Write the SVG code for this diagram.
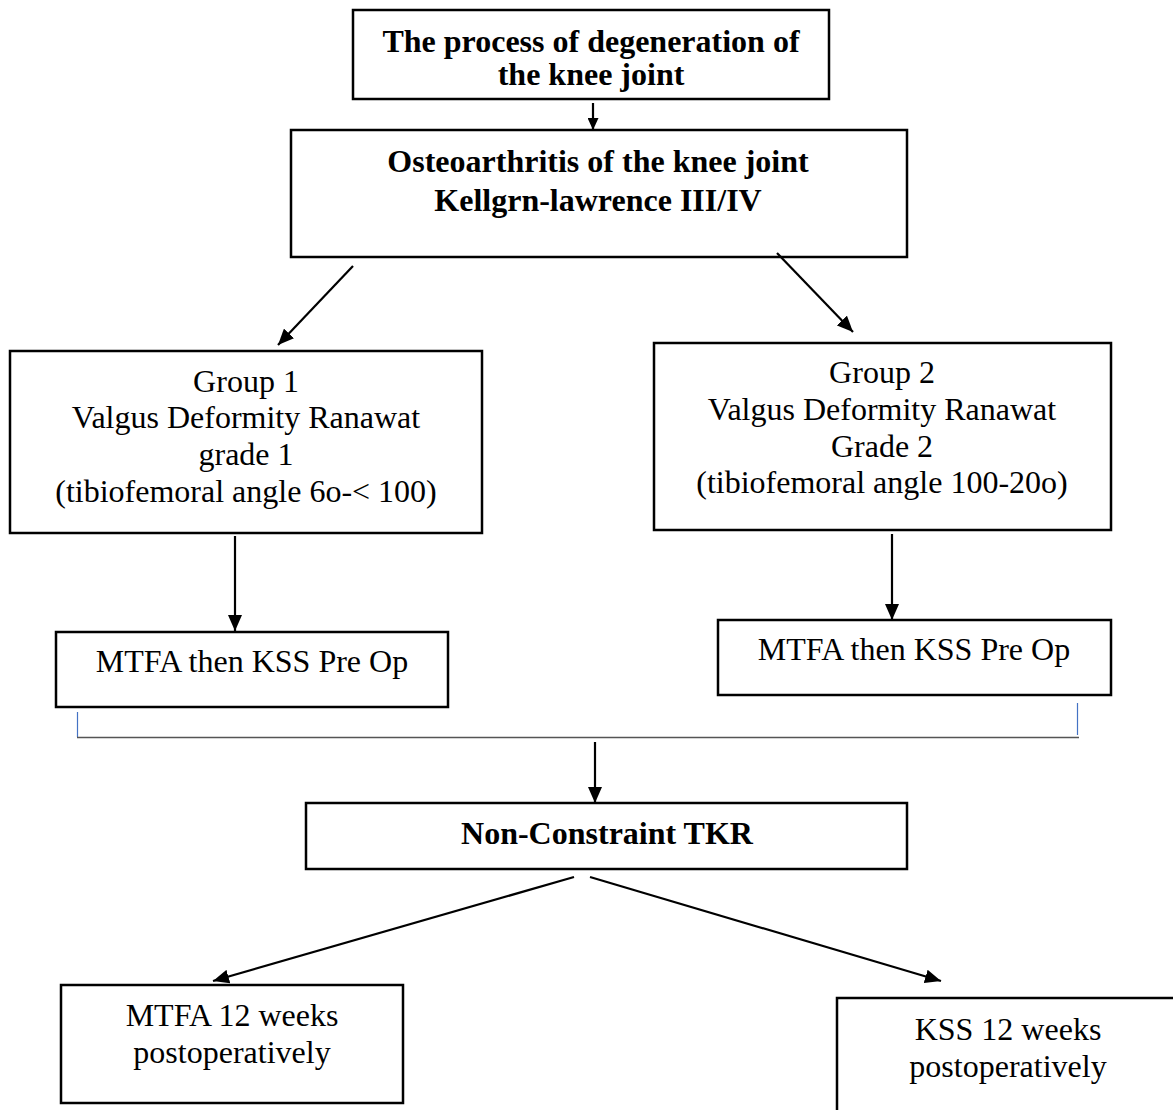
<svg xmlns="http://www.w3.org/2000/svg" width="1173" height="1110" viewBox="0 0 1173 1110">
<style>
.box{fill:#fff;stroke:#000;stroke-width:2.5}
.t{font-family:"Liberation Serif","Times New Roman",serif;font-size:32px;fill:#000;text-anchor:middle}
.b{font-weight:bold}
.c{stroke:#000;stroke-width:2.2;fill:none;marker-end:url(#ah)}
.cs{stroke:#000;stroke-width:2.2;fill:none;marker-end:url(#ahs)}
</style>
<defs>
<marker id="ah" viewBox="0 0 16 14" refX="16" refY="7" markerWidth="16" markerHeight="14" markerUnits="userSpaceOnUse" orient="auto">
<path d="M0,0 L16,7 L0,14 z" fill="#000"/>
</marker>
<marker id="ahs" viewBox="0 0 12 11" refX="12" refY="5.5" markerWidth="12" markerHeight="11" markerUnits="userSpaceOnUse" orient="auto">
<path d="M0,0 L12,5.5 L0,11 z" fill="#000"/>
</marker>
</defs>
<rect width="1173" height="1110" fill="#fff"/>
<g id="n1"><rect class="box" x="353" y="10" width="476" height="89"/>
<text class="t b" x="591" y="52">The process of degeneration of</text>
<text class="t b" x="591" y="85">the knee joint</text></g>
<g id="n2"><rect class="box" x="291" y="130" width="616" height="127"/>
<text class="t b" x="598" y="172">Osteoarthritis of the knee joint</text>
<text class="t b" x="598" y="211">Kellgrn-lawrence III/IV</text></g>
<g id="n3"><rect class="box" x="10" y="351" width="472" height="182"/>
<text class="t" x="246" y="392">Group 1</text>
<text class="t" x="246" y="428">Valgus Deformity Ranawat</text>
<text class="t" x="246" y="465">grade 1</text>
<text class="t" x="246" y="502">(tibiofemoral angle 6o-&lt; 100)</text></g>
<g id="n4"><rect class="box" x="654" y="343" width="457" height="187"/>
<text class="t" x="882" y="383">Group 2</text>
<text class="t" x="882" y="420">Valgus Deformity Ranawat</text>
<text class="t" x="882" y="457">Grade 2</text>
<text class="t" x="882" y="493">(tibiofemoral angle 100-20o)</text></g>
<g id="n5"><rect class="box" x="56" y="632" width="392" height="75"/>
<text class="t" x="252" y="672">MTFA then KSS Pre Op</text></g>
<g id="n6"><rect class="box" x="718" y="620" width="393" height="75"/>
<text class="t" x="914" y="660">MTFA then KSS Pre Op</text></g>
<g id="n7"><rect class="box" x="306" y="803" width="601" height="66"/>
<text class="t b" x="607" y="844">Non-Constraint TKR</text></g>
<g id="n8"><rect class="box" x="61" y="985" width="342" height="118"/>
<text class="t" x="232" y="1026">MTFA 12 weeks</text>
<text class="t" x="232" y="1063">postoperatively</text></g>
<g id="n9"><rect class="box" x="837" y="998" width="360" height="130"/>
<text class="t" x="1008" y="1040">KSS 12 weeks</text>
<text class="t" x="1008" y="1077">postoperatively</text></g>
<g id="connectors">
<line class="cs" x1="593" y1="103" x2="593" y2="130"/>
<line class="c" x1="353" y1="266" x2="278" y2="345"/>
<line class="c" x1="777" y1="253" x2="853" y2="332"/>
<line class="c" x1="235" y1="536" x2="235" y2="631"/>
<line class="c" x1="892" y1="534" x2="892" y2="620"/>
<line x1="77.5" y1="712" x2="77.5" y2="737" stroke="#4472C4" stroke-width="1.2"/>
<line x1="1077.5" y1="703" x2="1077.5" y2="735" stroke="#4472C4" stroke-width="1.2"/>
<line x1="77" y1="737.5" x2="1079" y2="737.5" stroke="#555" stroke-width="1.6"/>
<line class="c" x1="595" y1="742" x2="595" y2="803"/>
<line class="c" x1="574" y1="877" x2="213" y2="981"/>
<line class="c" x1="590" y1="877" x2="941" y2="981"/>
</g>
</svg>
